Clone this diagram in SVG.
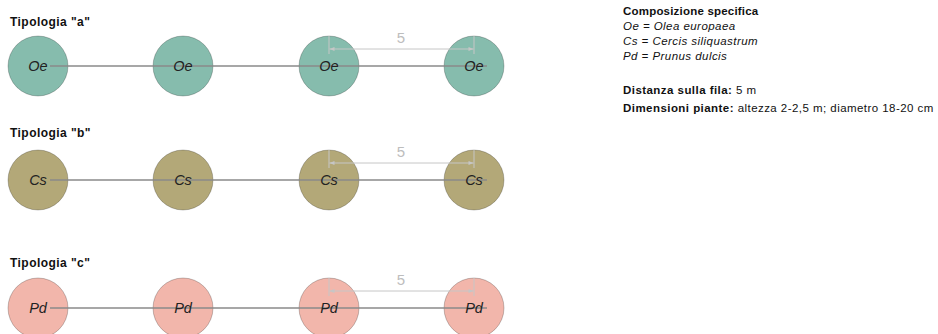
<svg xmlns="http://www.w3.org/2000/svg" width="938" height="334" viewBox="0 0 938 334">
<defs>
<style>
.lbl{font-family:"Liberation Sans",Arial,sans-serif;font-size:12px;font-weight:bold;fill:#111;letter-spacing:0.45px}
.hd{font-family:"Liberation Sans",Arial,sans-serif;font-size:11.5px;font-weight:bold;fill:#111;letter-spacing:0.2px}
.leg{font-family:"Liberation Sans",Arial,sans-serif;font-size:11.5px;fill:#111;letter-spacing:0.45px}
.it{font-style:italic}
.b{font-weight:bold}
.nt{font-family:"Liberation Sans",Arial,sans-serif;font-size:14.5px;font-style:italic;fill:#222;text-anchor:middle}
.oe{fill:#86bcad}
.cs{fill:#b3a878}
.pd{fill:#f2b6ab}
circle{stroke:#000;stroke-opacity:0.22;stroke-width:1}
.row{stroke:#8a8a8a;stroke-width:1.3;fill:none}
.dim{stroke:#c6c6c6;stroke-width:1;fill:none}
.dt{font-family:"Liberation Sans",Arial,sans-serif;font-size:15px;fill:#bdbdbd;text-anchor:middle}
</style>
<marker id="ar" viewBox="0 0 10 10" refX="10" refY="5" markerWidth="7" markerHeight="5" orient="auto-start-reverse" markerUnits="userSpaceOnUse">
<path d="M0,1 L10,5 L0,9 z" fill="#c6c6c6"/>
</marker>
</defs>
<rect width="938" height="334" fill="#fff"/>

<g id="legend">
<text class="hd" x="623" y="15">Composizione specifica</text>
<text class="leg it" x="623" y="30">Oe = Olea europaea</text>
<text class="leg it" x="623" y="45">Cs = Cercis siliquastrum</text>
<text class="leg it" x="623" y="60">Pd = Prunus dulcis</text>
<text class="leg" x="623" y="94"><tspan class="b">Distanza sulla fila:</tspan> 5 m</text>
<text class="leg" x="623" y="112"><tspan class="b">Dimensioni piante:</tspan> altezza 2-2,5 m; diametro 18-20 cm</text>
</g>

<g id="labels">
<text class="lbl" x="10" y="26">Tipologia "a"</text>
<text class="lbl" x="10" y="137">Tipologia "b"</text>
<text class="lbl" x="10" y="267">Tipologia "c"</text>
</g>

<!-- row a -->
<g id="a1"><circle class="oe" cx="38" cy="66" r="30"/></g>
<g id="a2"><circle class="oe" cx="183" cy="66" r="30"/></g>
<g id="a3"><circle class="oe" cx="329" cy="66" r="30"/></g>
<g id="a4"><circle class="oe" cx="474" cy="66" r="30"/></g>
<!-- row b -->
<g id="b1"><circle class="cs" cx="38" cy="180" r="30"/></g>
<g id="b2"><circle class="cs" cx="183" cy="180" r="30"/></g>
<g id="b3"><circle class="cs" cx="329" cy="180" r="30"/></g>
<g id="b4"><circle class="cs" cx="474" cy="180" r="30"/></g>
<!-- row c -->
<g id="c1"><circle class="pd" cx="38" cy="308" r="30"/></g>
<g id="c2"><circle class="pd" cx="183" cy="308" r="30"/></g>
<g id="c3"><circle class="pd" cx="329" cy="308" r="30"/></g>
<g id="c4"><circle class="pd" cx="474" cy="308" r="30"/></g>

<g id="connectors">
<line class="row" x1="50" y1="66" x2="487" y2="66"/>
<line class="row" x1="50" y1="180" x2="487" y2="180"/>
<line class="row" x1="50" y1="308" x2="487" y2="308"/>
<!-- dimensions -->
<line class="dim" x1="329" y1="36" x2="329" y2="54"/>
<line class="dim" x1="474" y1="36" x2="474" y2="54"/>
<line class="dim" x1="329.5" y1="49" x2="473.5" y2="49" marker-start="url(#ar)" marker-end="url(#ar)"/>
<line class="dim" x1="329" y1="150" x2="329" y2="168"/>
<line class="dim" x1="474" y1="150" x2="474" y2="168"/>
<line class="dim" x1="329.5" y1="163" x2="473.5" y2="163" marker-start="url(#ar)" marker-end="url(#ar)"/>
<line class="dim" x1="329" y1="278" x2="329" y2="296"/>
<line class="dim" x1="474" y1="278" x2="474" y2="296"/>
<line class="dim" x1="329.5" y1="291" x2="473.5" y2="291" marker-start="url(#ar)" marker-end="url(#ar)"/>
<text class="dt" x="401" y="43">5</text>
<text class="dt" x="401" y="157">5</text>
<text class="dt" x="401" y="285">5</text>
</g>

<g id="names">
<text class="nt" x="38" y="71">Oe</text>
<text class="nt" x="183" y="71">Oe</text>
<text class="nt" x="329" y="71">Oe</text>
<text class="nt" x="474" y="71">Oe</text>
<text class="nt" x="38" y="185">Cs</text>
<text class="nt" x="183" y="185">Cs</text>
<text class="nt" x="329" y="185">Cs</text>
<text class="nt" x="474" y="185">Cs</text>
<text class="nt" x="38" y="313">Pd</text>
<text class="nt" x="183" y="313">Pd</text>
<text class="nt" x="329" y="313">Pd</text>
<text class="nt" x="474" y="313">Pd</text>
</g>
</svg>
